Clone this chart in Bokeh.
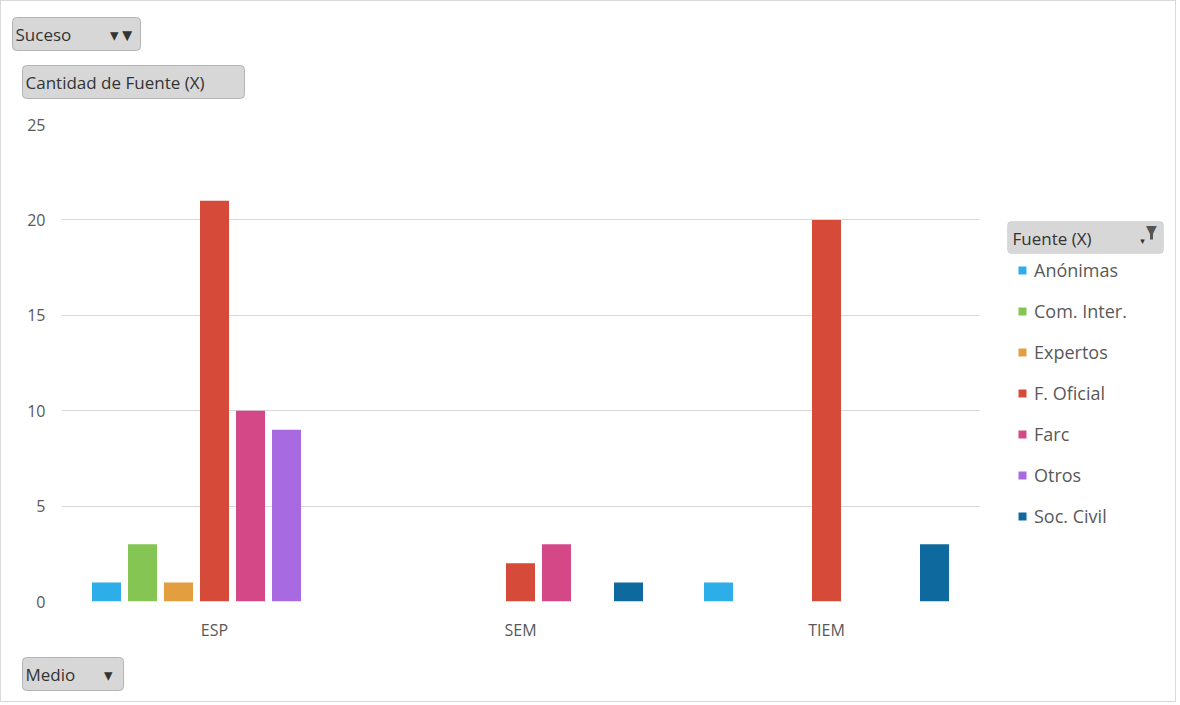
from bokeh.plotting import figure
from bokeh.models import (ColumnDataSource, Range1d, Legend, LegendItem, FixedTicker, Label,
                          BoxAnnotation, Title, Grid)
from bokeh.transform import dodge
from bokeh.embed import file_html
from bokeh.resources import INLINE

medios = ["ESP", "SEM", "TIEM"]
fuentes = ["Anónimas", "Com. Inter.", "Expertos", "F. Oficial", "Farc", "Otros", "Soc. Civil"]
anonimas = [1, 0, 1]
com_inter = [3, 0, 0]
expertos = [1, 0, 0]
f_oficial = [21, 2, 20]
farc = [10, 3, 0]
otros = [9, 0, 0]
soc_civil = [0, 1, 3]
y_ticks = [0, 5, 10, 15, 20, 25]
colores = ["#2EAEE9", "#84C554", "#E39E40", "#D64A3A", "#D54888", "#A86AE0", "#0E6A9E"]

series = [anonimas, com_inter, expertos, f_oficial, farc, otros, soc_civil]

FONT = "Open Sans"
GRAY = "#595959"
BTN_FILL = "#D7D7D7"
BTN_LINE = "#B4B4B4"
BTN_TEXT = "#333333"

OFF = 1                             # css border width
W, H = 1176, 702
FL, FT, FB = 60, 123, 600           # frame left / top / bottom (canvas pixels)
CAT_PX = 306                        # width of one category on screen
n = len(medios)
pos = [i + 0.5 for i in range(n)]   # category centres on a numeric scale

p = figure(width=W, height=H, x_range=Range1d(0, (W - FL) / CAT_PX), y_range=(0, 25),
           output_backend="svg", toolbar_location=None, title=None,
           min_border_left=FL, min_border_right=0, min_border_top=FT,
           min_border_bottom=H - FB)
p.outline_line_color = None
p.background_fill_color = "white"
p.styles = {"border": "1px solid #D9D9D9"}

src = ColumnDataSource(dict(medio=medios, pos=pos, **{f"s{i}": s for i, s in enumerate(series)}))

slot = 36 / CAT_PX
items = []
for i, (name, col) in enumerate(zip(fuentes, colores)):
    r = p.vbar(x=dodge("pos", (i - 3) * slot), top=f"s{i}", width=29 / CAT_PX,
               source=src, fill_color=col, line_color=None)
    items.append(LegendItem(label=name, renderers=[r]))

p.yaxis.ticker = FixedTicker(ticks=y_ticks)
p.xaxis.ticker = FixedTicker(ticks=pos)
p.xaxis.major_label_overrides = {x: m for x, m in zip(pos, medios)}
for ax in (p.xaxis[0], p.yaxis[0]):
    ax.axis_line_color = None
    ax.major_tick_line_color = None
    ax.minor_tick_line_color = None
    ax.major_label_text_font = FONT
    ax.major_label_text_font_size = "16px"
    ax.major_label_text_color = GRAY
p.yaxis.major_tick_out = 0
p.yaxis.major_label_standoff = 16
p.xaxis.major_label_standoff = 11
p.xgrid.grid_line_color = None

if "cross_bounds" in Grid.properties():
    p.ygrid.grid_line_color = "#D9D9D9"
    p.ygrid.cross_bounds = (0, n)
else:
    p.ygrid.grid_line_color = None
    for v in y_ticks:
        p.add_layout(BoxAnnotation(bottom=v, top=v, left=0, right=n, fill_alpha=0,
                                   line_color="#D9D9D9", line_width=1, level="underlay"))


def sx(x):
    return x - OFF - FL


def sy(y):
    return FB - (y - OFF)


# main legend, inside the (wide) frame
legend = Legend(items=items, location=(sx(1017), sy(528.5)), orientation="vertical",
                padding=0, margin=0, border_line_color=None, background_fill_alpha=0,
                glyph_width=10, glyph_height=10, label_standoff=7, label_height=25,
                spacing=16, label_text_font=FONT, label_text_font_size="18px",
                label_text_color=GRAY)
p.add_layout(legend, "center")


def scr_box(x0, y0, x1, y1, **kw):
    return BoxAnnotation(left=sx(x0), right=sx(x1), top=sy(y0), bottom=sy(y1),
                         left_units="screen", right_units="screen",
                         top_units="screen", bottom_units="screen", **kw)


# "Fuente (X)" field button (inside frame)
p.add_layout(scr_box(1007, 221, 1163, 253, fill_color=BTN_FILL, fill_alpha=1,
                     line_color=BTN_LINE, line_width=1, border_radius=4, level="overlay"))
p.add_layout(Label(x=sx(1012), y=sy(238), x_units="screen", y_units="screen", text="Fuente (X)",
                   text_font=FONT, text_font_size="17px", text_color=BTN_TEXT,
                   text_baseline="middle", text_align="left", level="overlay"))
p.add_layout(Label(x=sx(1151), y=sy(229), x_units="screen", y_units="screen", text="▼",
                   text_font="DejaVu Sans", text_font_size="14px", text_color="#555555",
                   text_baseline="middle", text_align="center", level="overlay"))
p.add_layout(scr_box(1149.5, 231, 1152.5, 239, fill_color="#555555", fill_alpha=1,
                     line_color=None, level="overlay"))
p.add_layout(Label(x=sx(1142), y=sy(240), x_units="screen", y_units="screen", text="▾",
                   text_font="DejaVu Sans", text_font_size="9px", text_color="#333333",
                   text_baseline="middle", text_align="center", level="overlay"))

# field buttons outside the frame, as titles in the side panels
has_pad = "padding" in Title.properties()


def title_button(text, box_left, standoff, pad_right, side):
    kw = dict(text=text, align="left", offset=box_left - OFF - FL,
              text_font=FONT, text_font_size="17px", text_font_style="normal",
              text_color=BTN_TEXT, background_fill_color=BTN_FILL,
              border_line_color=BTN_LINE, border_line_width=1)
    if has_pad:
        kw["padding"] = dict(left=3, right=pad_right, top=5, bottom=5)
        kw["border_radius"] = 4
    try:
        t = Title(standoff=standoff, **kw)
    except Exception:
        t = Title(standoff=max(standoff, 0), **kw)
    p.add_layout(t, side)


title_button("Cantidad de Fuente (X)", 22, 52, 40, "above")
title_button("Suceso\u2003\u2003 \u25BE\u25BC", 12, -26, 5, "above")
title_button("Medio\u2003\u2002\u2009\u25BE", 22, 24, 11, "below")

open("out.html", "w").write(file_html(p, INLINE))
